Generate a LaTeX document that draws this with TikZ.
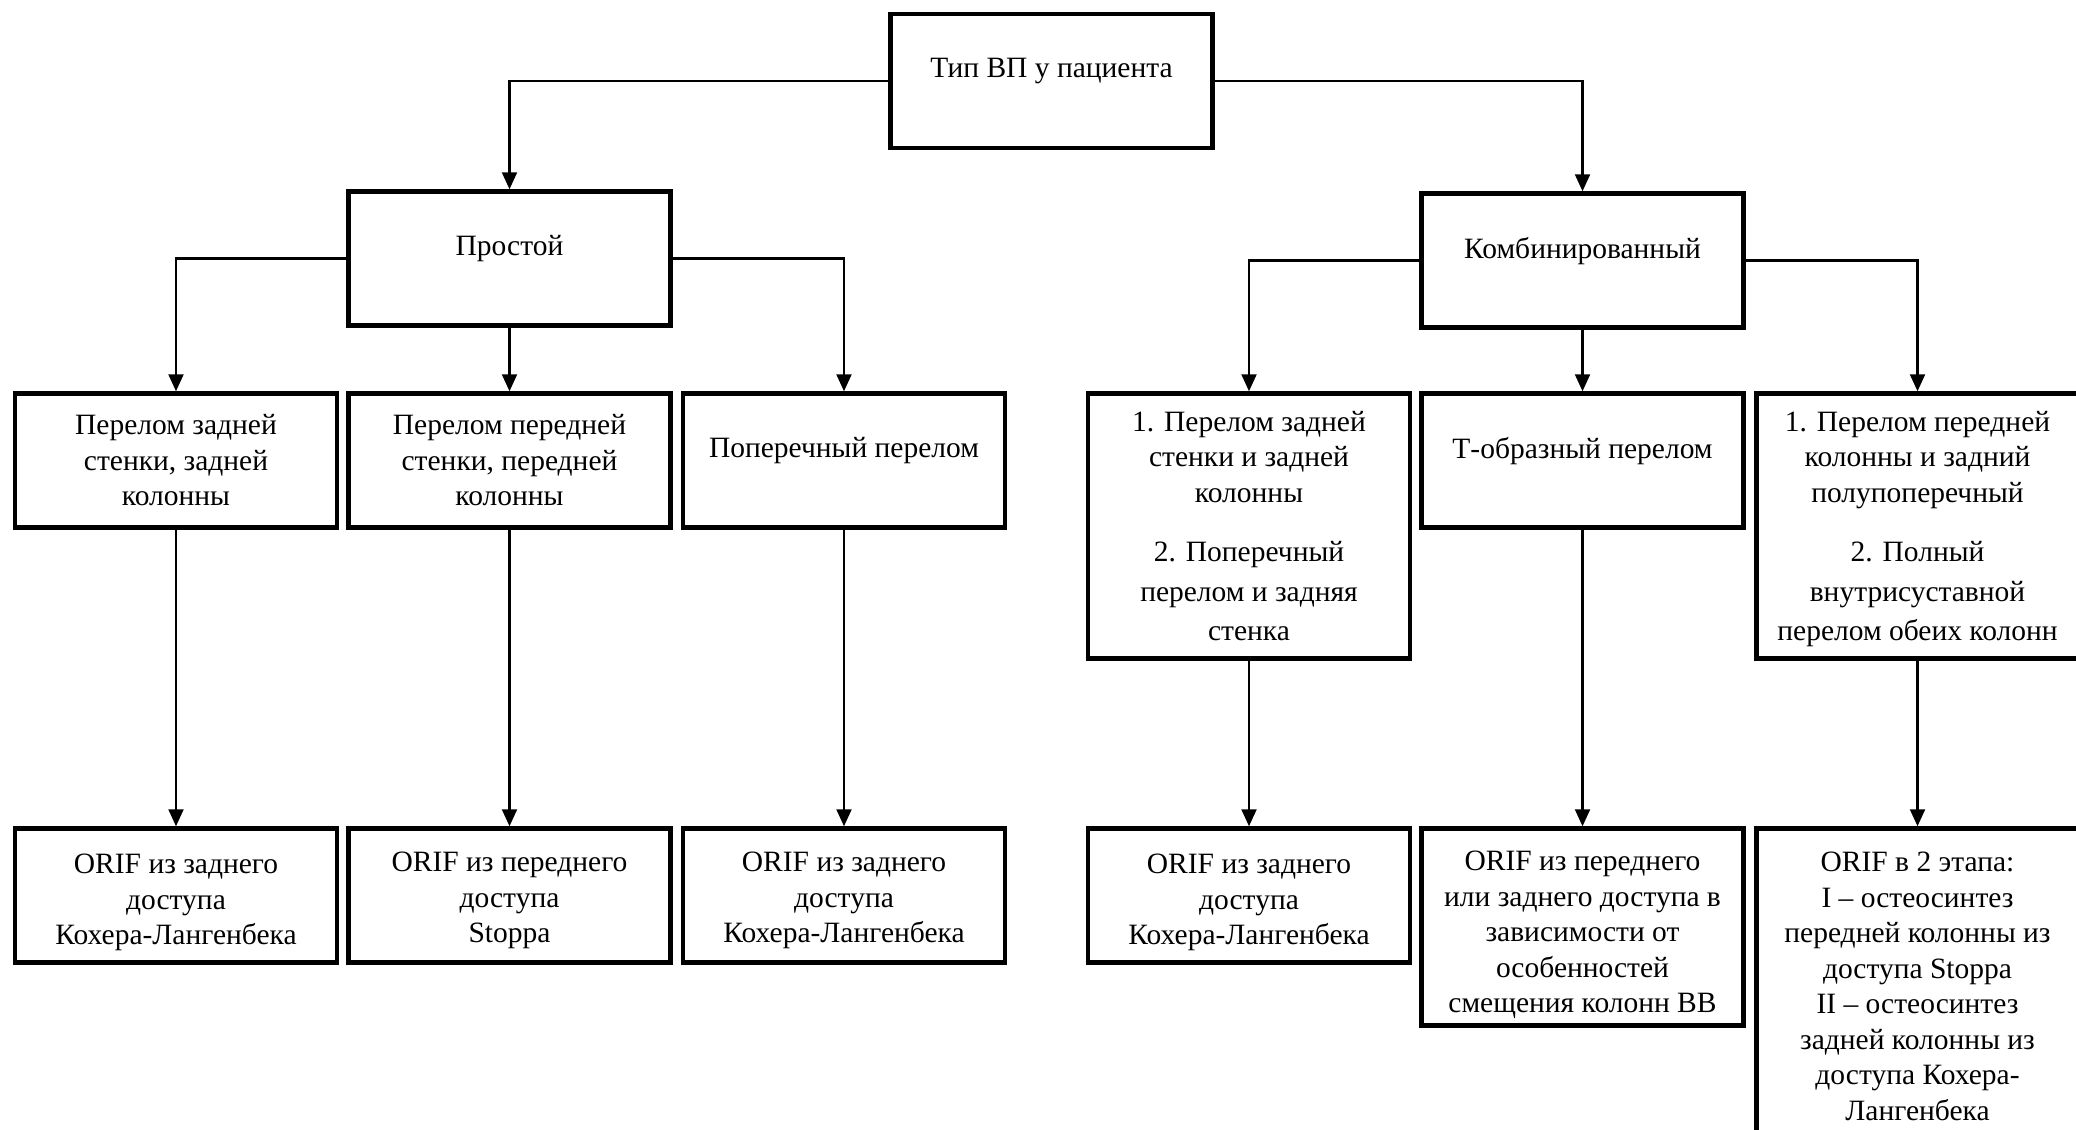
\documentclass[tikz,border=0pt]{standalone}
\usepackage{fontspec}
\setmainfont{Liberation Serif}
\usetikzlibrary{arrows.meta}

\begin{document}
\begin{tikzpicture}
        [x=1pt, y=-1pt,
        box/.style={rectangle, draw, line width=4.5pt, minimum width=322pt, minimum height=134pt, inner sep=0pt, align=center, font=\fontsize{29.5pt}{35.5pt}\selectfont},
        boxOne/.style={box, text depth=26pt},
        arr/.style={line width=2.2pt, -{Triangle[length=17pt, width=15pt]}}]
        \clip (0,0) rectangle (2076,1129);

        \node[boxOne] (T) at (1051.5,81) {Тип ВП у пациента};
        \node[boxOne] (P) at (509.5,258.5) {Простой};
        \node[boxOne] (K) at (1582.5,260.5) {Комбинированный};

        \node[box] (A) at (176,460.5) {Перелом задней\\стенки, задней\\колонны};
        \node[box] (B) at (509.5,460.5) {Перелом передней\\стенки, передней\\колонны};
        \node[boxOne] (C) at (844,460.5) {Поперечный перелом};
        \node[box, minimum height=265pt] (D) at (1249,526) {1. Перелом задней\\стенки и задней\\колонны\\[24pt]2. Поперечный\\[4pt]перелом и задняя\\[4pt]стенка};
        \node[boxOne] (E) at (1582.5,460.5) {Т-образный перелом};
        \node[box, minimum height=265pt] (F) at (1917.5,526) {\rule{0pt}{26pt}1. Перелом передней\\колонны и задний\\полупоперечный\\[24pt]2. Полный\\[4pt]внутрисуставной\\[4pt]перелом обеих колонн};

        \node[box] (G) at (176,895.5) {\rule{0pt}{34pt}ORIF из заднего\\доступа\\Кохера-Лангенбека};
        \node[box] (H) at (509.5,895.5) {\rule{0pt}{30pt}ORIF из переднего\\доступа\\Stoppa};
        \node[box] (I) at (844,895.5) {\rule{0pt}{30pt}ORIF из заднего\\доступа\\Кохера-Лангенбека};
        \node[box] (J) at (1249,895.5) {\rule{0pt}{34pt}ORIF из заднего\\доступа\\Кохера-Лангенбека};
        \node[box, minimum height=197pt] (L) at (1582.5,927) {\rule{0pt}{36pt}ORIF из переднего\\или заднего доступа в\\зависимости от\\особенностей\\смещения колонн ВВ};
        \node[box, minimum height=309pt] (M) at (1917.5,983) {\rule{0pt}{26pt}ORIF в 2 этапа:\\I – остеосинтез\\передней колонны из\\доступа Stoppa\\II – остеосинтез\\задней колонны из\\доступа Кохера-\\Лангенбека};

        \draw[arr] (T.west) -| (P);
        \draw[arr] (T.east) -| (K);

        \draw[arr] (P.west) -| (A);
        \draw[arr] (P) -- (B);
        \draw[arr] (P.east) -| (C);
        \draw[arr] (K.west) -| (D);
        \draw[arr] (K) -- (E);
        \draw[arr] (K.east) -| (F);

        \draw[arr] (A) -- (G);
        \draw[arr] (B) -- (H);
        \draw[arr] (C) -- (I);
        \draw[arr] (D) -- (J);
        \draw[arr] (E) -- (L);
        \draw[arr] (F) -- (M);

    \end{tikzpicture}
\end{document}
